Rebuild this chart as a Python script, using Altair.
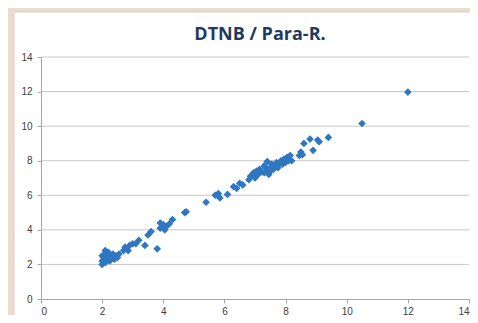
import altair as alt
import pandas as pd

x_vals = [2.0, 2.0, 2.05, 2.1, 2.1, 2.15, 2.2, 2.2, 2.25, 2.3, 2.35, 2.4, 2.45, 2.5, 2.55, 2.0, 2.1,
          2.7, 2.75, 2.85, 2.9, 3.0, 3.1, 3.2, 3.4, 3.5, 3.6, 3.8, 3.9, 4.0, 4.05, 4.1, 3.9, 4.2, 4.3,
          4.7, 4.75, 5.4, 5.7, 5.8, 5.85, 6.1, 6.3, 6.4, 6.5, 6.6, 6.8, 6.85, 6.95, 7.0, 7.05, 7.1,
          7.15, 7.2, 7.3, 7.35, 7.4, 7.45, 7.5, 7.5, 7.55, 7.6, 7.65, 7.7, 7.75, 7.8, 7.85, 7.9, 7.95,
          8.0, 8.05, 8.1, 8.15, 7.4, 7.3, 8.2, 8.45, 8.5, 8.55, 8.6, 8.8, 8.9, 9.05, 9.1, 9.4, 10.5, 12.0]
y_vals = [2.0, 2.2, 2.4, 2.1, 2.6, 2.3, 2.5, 2.7, 2.2, 2.45, 2.6, 2.3, 2.5, 2.4, 2.6, 2.5, 2.8,
          2.8, 3.0, 2.8, 3.1, 3.2, 3.2, 3.4, 3.1, 3.7, 3.9, 2.9, 4.1, 4.3, 4.0, 4.2, 4.4, 4.35, 4.6,
          5.0, 5.05, 5.6, 6.0, 6.1, 5.85, 6.05, 6.5, 6.4, 6.7, 6.6, 6.9, 7.1, 7.3, 7.0, 7.4, 7.2,
          7.5, 7.35, 7.3, 7.6, 7.45, 7.2, 7.6, 7.4, 7.8, 7.5, 7.7, 7.9, 7.6, 7.85, 8.0, 7.8, 8.1,
          7.9, 8.2, 8.0, 8.3, 7.95, 7.7, 8.0, 8.3, 8.5, 8.35, 9.0, 9.25, 8.6, 9.2, 9.1, 9.35, 10.15, 11.97]

title_text = "DTNB / Para-R."
ticks = [0, 2, 4, 6, 8, 10, 12, 14]

df = pd.DataFrame({"x": x_vals, "y": y_vals})
grid_df = pd.DataFrame({"t": ticks[1:]})

W, H = 428, 242

one = pd.DataFrame({"a": [0]})
xscale = alt.Scale(domain=[0, 14], nice=False)
yscale = alt.Scale(domain=[0, 14], nice=False)

x_axis = alt.Axis(values=ticks, title=None, grid=False, domainColor="#a6a6a6",
                  tickColor="#a6a6a6", tickSize=4, labelColor="#404040",
                  labelFontSize=10, labelFont="Liberation Sans", labelPadding=3, zindex=1)
y_axis = alt.Axis(values=ticks, title=None, grid=False, domainColor="#a6a6a6",
                  tickColor="#a6a6a6", tickSize=4, labelColor="#404040",
                  labelFontSize=10, labelFont="Liberation Sans", labelPadding=5, zindex=1)

panel = alt.Chart(one).mark_rect(
    color="white", stroke="#d0d0d0", strokeWidth=1
).encode(
    x=alt.value(-27), x2=alt.value(W + 10), y=alt.value(-45), y2=alt.value(H + 20)
)

title = alt.Chart(one).mark_text(
    text=title_text, fontSize=18, font="Open Sans", fontWeight="bold",
    color="#1f3a60", align="center", baseline="alphabetic"
).encode(x=alt.value(W / 2 + 5), y=alt.value(-17))

grid = alt.Chart(grid_df).mark_rule(color="#c8c8c8", strokeWidth=1).encode(
    y=alt.Y("t:Q", scale=yscale, axis=y_axis),
    x=alt.value(0), x2=alt.value(W),
)

points = alt.Chart(df).mark_point(
    shape="diamond", filled=True, color="#2f77c0", size=58, opacity=1
).encode(
    x=alt.X("x:Q", scale=xscale, axis=x_axis),
    y=alt.Y("y:Q", scale=yscale, axis=y_axis),
)

chart = alt.layer(panel, title, grid, points).properties(
    width=W, height=H,
    background="#ecdccd",
    padding={"left": 33, "top": 49, "right": 1, "bottom": 16},
    autosize=alt.AutoSizeParams(type="none"),
).configure_view(stroke=None)

chart.save("out.html", embed_options={"renderer": "svg", "actions": False})
